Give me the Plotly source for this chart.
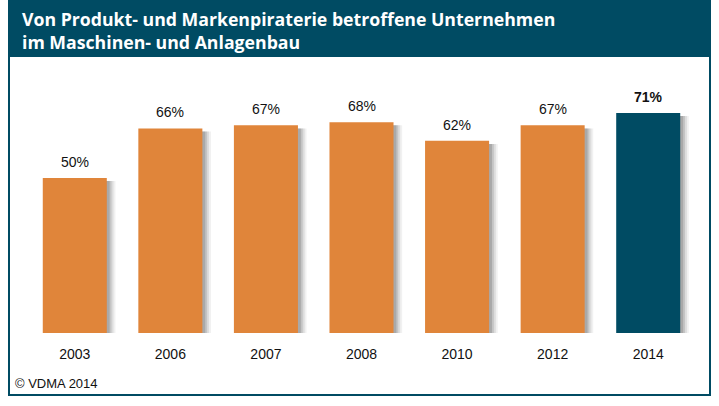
import plotly.graph_objects as go

years = ["2003", "2006", "2007", "2008", "2010", "2012", "2014"]
shares = [50, 66, 67, 68, 62, 67, 71]
bar_colors = ["#E0853A"] * 6 + ["#004B63"]
title_lines = ["Von Produkt- und Markenpiraterie betroffene Unternehmen",
               "im Maschinen- und Anlagenbau"]
copyright_text = "© VDMA 2014"

TEAL = "#004B63"
W, H = 719, 406
bw = 0.67
idx = list(range(len(years)))

fig = go.Figure()
# soft shadow layers
for dx, alpha in [(0.09, 0.07), (0.07, 0.10), (0.05, 0.14), (0.03, 0.18)]:
    fig.add_trace(go.Bar(x=idx, y=[v + 0.2 for v in shares], base=-1.2,
                         width=bw, offset=-bw / 2 + dx,
                         marker=dict(color=f"rgba(50,50,50,{alpha})", line=dict(width=0)),
                         hoverinfo="skip", showlegend=False))
fig.add_trace(go.Bar(x=idx, y=shares, width=bw, offset=-bw / 2,
                     marker=dict(color=bar_colors, line=dict(width=0)),
                     showlegend=False))

for i, v in zip(idx, shares):
    txt = f"{v}%" if i < len(idx) - 1 else f"<b>{v}%</b>"
    fig.add_annotation(x=i, y=v, xref="x", yref="y", text=txt, showarrow=False,
                       yshift=16, yanchor="middle",
                       font=dict(family="Liberation Sans, Arial", size=14, color="#111111"))

# frame and title band
fig.add_shape(type="rect", xref="paper", yref="paper",
              x0=9 / W, x1=710 / W, y0=1 - 395 / H, y1=1.0,
              line=dict(color=TEAL, width=2), fillcolor="rgba(0,0,0,0)", layer="above")
fig.add_shape(type="rect", xref="paper", yref="paper",
              x0=9 / W, x1=710 / W, y0=1 - 57 / H, y1=1.0,
              line=dict(width=0), fillcolor=TEAL, layer="below")
fig.add_annotation(xref="paper", yref="paper", x=20 / W, y=1 - 30 / H,
                   xanchor="left", yanchor="middle", showarrow=False, align="left",
                   text="<b>" + "<br>".join(title_lines) + "</b>",
                   font=dict(family="Open Sans, Noto Sans", size=17.7, color="white"))
fig.add_annotation(xref="paper", yref="paper", x=13 / W, y=1 - 383 / H,
                   xanchor="left", yanchor="middle", showarrow=False,
                   text=copyright_text,
                   font=dict(family="Liberation Sans, Arial", size=13, color="#111111"))

fig.update_layout(
    width=W, height=H, margin=dict(l=0, r=0, t=0, b=0),
    paper_bgcolor="white", plot_bgcolor="white", barmode="overlay",
    xaxis=dict(domain=[27 / W, 696 / W], range=[-0.5, 6.5],
               tickmode="array", tickvals=idx, ticktext=years,
               showgrid=False, zeroline=False, showline=False,
               ticks="outside", ticklen=8, tickcolor="rgba(0,0,0,0)",
               tickfont=dict(family="Liberation Sans, Arial", size=14, color="#111111")),
    yaxis=dict(domain=[1 - 333 / H, 1 - 60 / H], range=[0, 273 / 3.1],
               showgrid=False, zeroline=False, showline=False, showticklabels=False),
)

fig.write_html("out.html", config={"displayModeBar": False})
with open("out.html", encoding="utf-8") as f:
    html = f.read()
html = html.replace("<head>", "<head><style>html,body{margin:0;padding:0;overflow:hidden;}</style>", 1)
with open("out.html", "w", encoding="utf-8") as f:
    f.write(html)
